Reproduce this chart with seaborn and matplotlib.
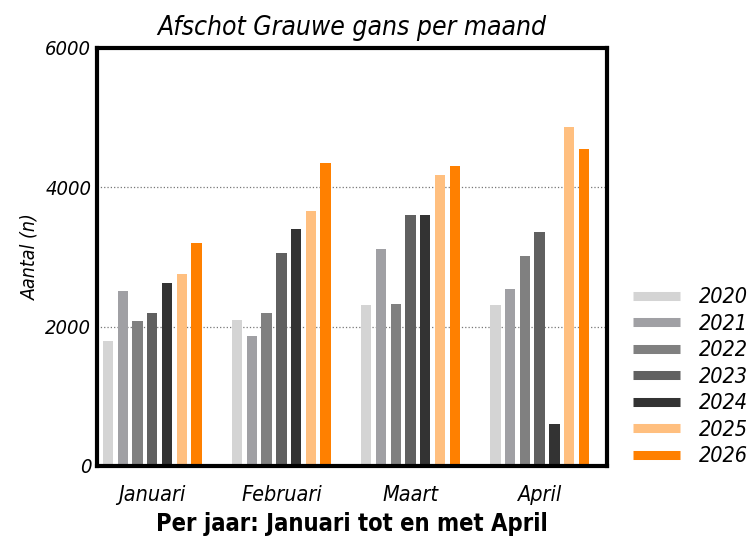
import pandas as pd
import matplotlib.pyplot as plt
import seaborn as sns
from matplotlib.lines import Line2D

maanden = ["Januari", "Februari", "Maart", "April"]
jaren = ["2020", "2021", "2022", "2023", "2024", "2025", "2026"]

# afschot per jaar, waarden per maand (Jan, Feb, Mrt, Apr)
a2020 = [1800, 2100, 2315, 2315]
a2021 = [2510, 1870, 3110, 2540]
a2022 = [2080, 2200, 2320, 3010]
a2023 = [2200, 3050, 3600, 3360]
a2024 = [2630, 3405, 3600, 600]
a2025 = [2760, 3665, 4180, 4870]
a2026 = [3200, 4345, 4310, 4545]

kleuren = ["#d4d4d4", "#a0a0a4", "#808080", "#606060", "#333333", "#ffbf7f", "#ff8000"]


def main():
    reeksen = [a2020, a2021, a2022, a2023, a2024, a2025, a2026]
    rows = []
    for jaar, waarden in zip(jaren, reeksen):
        for maand, w in zip(maanden, waarden):
            rows.append({"Maand": maand, "Jaar": jaar, "Aantal": w})
    df = pd.DataFrame(rows)

    sns.set_style("white")
    plt.rcParams["font.family"] = ["DejaVu Sans"]
    plt.rcParams["font.stretch"] = "condensed"
    plt.rcParams["text.color"] = "black"
    plt.rcParams["xtick.color"] = "black"
    plt.rcParams["ytick.color"] = "black"
    plt.rcParams["axes.labelcolor"] = "black"

    fig = plt.figure(figsize=(7.5, 5.38), dpi=100)
    ax = fig.add_axes([0.129, 0.134, 0.68, 0.777])

    sns.barplot(data=df, x="Maand", y="Aantal", hue="Jaar", order=maanden,
                hue_order=jaren, palette=kleuren, saturation=1, width=0.8, gap=0.3,
                edgecolor="none", ax=ax, legend=False)

    ax.set_ylim(0, 6000)
    ax.set_xlim(-0.43, 3.52)
    ax.set_yticks([0, 2000, 4000, 6000])
    ax.yaxis.grid(True, linestyle=":", color="#777777", linewidth=0.9)
    ax.set_axisbelow(True)

    for s in ax.spines.values():
        s.set_visible(True)
        s.set_color("black")
        s.set_linewidth(3)

    ax.tick_params(axis="x", direction="out", length=6, width=3, color="black",
                   labelsize=15.5, pad=8)
    ax.tick_params(axis="y", length=0, labelsize=14.5, pad=4)
    for lbl in ax.get_xticklabels() + ax.get_yticklabels():
        lbl.set_fontstyle("italic")

    ax.set_title("Afschot Grauwe gans per maand", fontsize=19, style="italic", pad=9)
    ax.set_ylabel("Aantal (n)", fontsize=14, style="italic", labelpad=4)
    ax.set_xlabel("Per jaar: Januari tot en met April", fontsize=17, weight="bold",
                  labelpad=5)

    handles = [Line2D([0], [0], color=c, linewidth=6.5, solid_capstyle="butt")
               for c in kleuren]
    leg = fig.legend(handles, jaren, loc="upper left", bbox_to_anchor=(0.832, 0.482),
                     frameon=False, handlelength=2.2, handletextpad=0.9,
                     labelspacing=0.3, fontsize=15.5, borderaxespad=0)
    for t in leg.get_texts():
        t.set_fontstyle("italic")

    fig.savefig("out.png", dpi=100)


if __name__ == "__main__":
    main()
